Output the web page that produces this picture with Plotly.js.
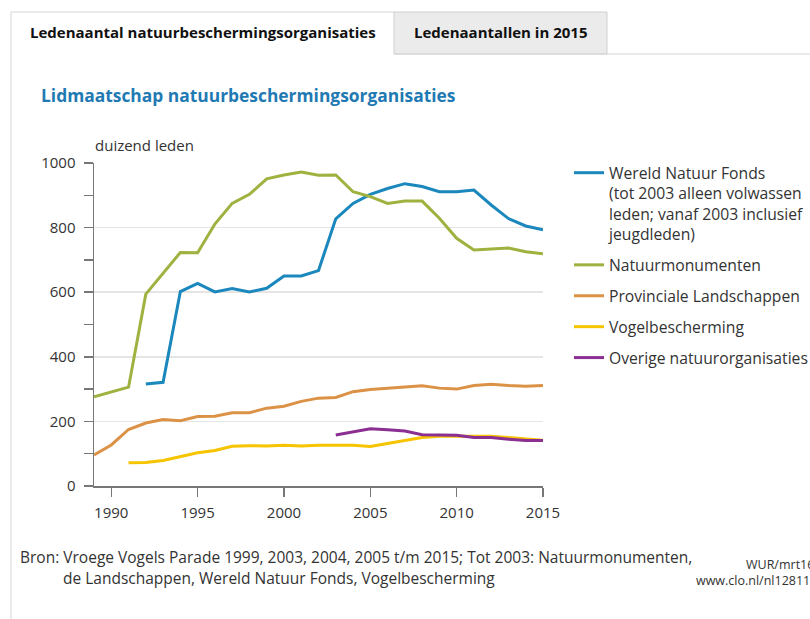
<!DOCTYPE html>
<html>
<head>
<meta charset="utf-8">
<script src="https://cdn.plot.ly/plotly-3.0.1.min.js"></script>
<style>
  html, body { margin: 0; padding: 0; background: #ffffff; }
  #chart { width: 810px; height: 619px; }
</style>
</head>
<body>
<div id="chart"></div>
<script>
// ---- data (thousands of members) ----
const yearsAll = [1989,1990,1991,1992,1993,1994,1995,1996,1997,1998,1999,2000,2001,2002,2003,2004,2005,2006,2007,2008,2009,2010,2011,2012,2013,2014,2015];

const wnfYears = [1992,1993,1994,1995,1996,1997,1998,1999,2000,2001,2002,2003,2004,2005,2006,2007,2008,2009,2010,2011,2012,2013,2014,2015];
const wnfValues = [316,321,602,627,601,611,601,612,650,650,667,827,875,903,921,936,927,911,911,916,870,828,805,793];

const natuurmonumentenValues = [276,292,306,594,658,723,722,811,875,903,951,963,972,962,963,911,896,875,882,882,829,767,731,734,737,725,719];

const provincialeValues = [96,127,175,195,206,202,215,216,227,227,241,247,262,272,274,292,299,303,306,310,303,300,311,315,311,309,311];

const vogelYears = [1991,1992,1993,1994,1995,1996,1997,1998,1999,2000,2001,2002,2003,2004,2005,2006,2007,2008,2009,2010,2011,2012,2013,2014,2015];
const vogelValues = [72,73,79,90,103,110,123,125,124,126,124,126,126,126,122,132,140,150,154,154,152,154,150,145,142];

const overigeYears = [2003,2004,2005,2006,2007,2008,2009,2010,2011,2012,2013,2014,2015];
const overigeValues = [158,168,177,174,170,159,159,157,150,150,145,141,141];

const seriesNames = [
  "Wereld Natuur Fonds<br>(tot 2003 alleen volwassen<br>leden; vanaf 2003 inclusief<br>jeugdleden)",
  "Natuurmonumenten",
  "Provinciale Landschappen",
  "Vogelbescherming",
  "Overige natuurorganisaties"
];
const seriesColors = ["#1a87bd", "#9fb13f", "#dc9246", "#f6c400", "#8c2f92"];

const xTickVals = [1990, 1995, 2000, 2005, 2010, 2015];
const yTickVals = [0, 200, 400, 600, 800, 1000];

// ---- page geometry helpers (pixel -> paper) ----
const W = 810, H = 619;
const M = { l: 94, r: 267, t: 163, b: 133 };
const PW = W - M.l - M.r, PH = H - M.t - M.b;
const fx = px => (px - M.l) / PW;
const fy = py => (H - M.b - py) / PH;

const FONT = "Open Sans, Noto Sans, sans-serif";
const TXT = "#333333";

function line(x, y, name, color, group) {
  return { x: x, y: y, name: name, type: "scatter", mode: "lines", legendgroup: group,
           line: { color: color, width: 3 }, hoverinfo: "x+y+name" };
}

const traces = [
  line(wnfYears, wnfValues, seriesNames[0], seriesColors[0], "g0"),
  line(yearsAll, natuurmonumentenValues, seriesNames[1], seriesColors[1], "g1"),
  line(yearsAll, provincialeValues, seriesNames[2], seriesColors[2], "g2"),
  line(vogelYears, vogelValues, seriesNames[3], seriesColors[3], "g3"),
  line(overigeYears, overigeValues, seriesNames[4], seriesColors[4], "g4")
];

const border = "#d6d6d6";
const shapes = [
  { type: "line", xref: "paper", yref: "paper", x0: fx(11), x1: fx(11), y0: fy(12), y1: fy(619), line: { color: border, width: 1 } },
  { type: "line", xref: "paper", yref: "paper", x0: fx(11), x1: fx(394), y0: fy(12), y1: fy(12), line: { color: border, width: 1 } },
  { type: "rect", xref: "paper", yref: "paper", x0: fx(394), x1: fx(607), y0: fy(12), y1: fy(54), fillcolor: "#ebebeb", line: { color: "#cfcfcf", width: 1 } },
  { type: "line", xref: "paper", yref: "paper", x0: fx(394), x1: fx(810), y0: fy(54), y1: fy(54), line: { color: border, width: 1 } }
];

const annotations = [
  { text: "<b>Ledenaantal natuurbeschermingsorganisaties</b>", xref: "paper", yref: "paper", x: fx(203), y: fy(32), xanchor: "center", yanchor: "middle", showarrow: false, font: { family: FONT, size: 15, color: "#111111" } },
  { text: "<b>Ledenaantallen in 2015</b>", xref: "paper", yref: "paper", x: fx(501), y: fy(32), xanchor: "center", yanchor: "middle", showarrow: false, font: { family: FONT, size: 15, color: "#111111" } },
  { text: "<b>Lidmaatschap natuurbeschermingsorganisaties</b>", xref: "paper", yref: "paper", x: fx(39), y: fy(95), xanchor: "left", yanchor: "middle", showarrow: false, font: { family: FONT, size: 17.4, color: "#1f7ab3" } },
  { text: "duizend leden", xref: "paper", yref: "paper", x: fx(93), y: fy(145), xanchor: "left", yanchor: "middle", showarrow: false, font: { family: FONT, size: 15, color: TXT } },
  { text: "Bron: Vroege Vogels Parade 1999, 2003, 2004, 2005 t/m 2015; Tot 2003: Natuurmonumenten,", xref: "paper", yref: "paper", x: fx(18), y: fy(557), xanchor: "left", yanchor: "middle", showarrow: false, font: { family: FONT, size: 15.5, color: TXT } },
  { text: "de Landschappen, Wereld Natuur Fonds, Vogelbescherming", xref: "paper", yref: "paper", x: fx(61), y: fy(578), xanchor: "left", yanchor: "middle", showarrow: false, font: { family: FONT, size: 15.5, color: TXT } },
  { text: "WUR/mrt16", xref: "paper", yref: "paper", x: fx(744), y: fy(564), xanchor: "left", yanchor: "middle", showarrow: false, font: { family: FONT, size: 12.5, color: TXT } },
  { text: "www.clo.nl/nl128110", xref: "paper", yref: "paper", x: fx(694), y: fy(580), xanchor: "left", yanchor: "middle", showarrow: false, font: { family: FONT, size: 12.5, color: TXT } }
];

const layout = {
  width: W, height: H,
  margin: { l: M.l, r: M.r, t: M.t, b: M.b, pad: 0, autoexpand: false },
  paper_bgcolor: "#ffffff", plot_bgcolor: "#ffffff",
  font: { family: FONT, size: 15, color: TXT },
  showlegend: true,
  legend: {
    x: fx(569), y: fy(156), xanchor: "left", yanchor: "top",
    font: { family: FONT, size: 15.7, color: TXT },
    valign: "top", tracegroupgap: 7.5, bgcolor: "rgba(0,0,0,0)"
  },
  xaxis: {
    range: [1989, 2015], tickmode: "array", tickvals: xTickVals, ticktext: xTickVals.map(String),
    showgrid: false, zeroline: false,
    showline: true, linecolor: "#777777", linewidth: 1.5,
    ticks: "outside", ticklen: 9, tickcolor: "#777777", tickwidth: 1.5,
    tickfont: { family: FONT, size: 15, color: TXT }, ticklabelstandoff: 3, fixedrange: true
  },
  yaxis: {
    range: [0, 1000], tickmode: "array", tickvals: yTickVals, ticktext: yTickVals.map(String),
    showgrid: true, gridcolor: "#e5e5e5", gridwidth: 1.5, zeroline: false,
    showline: true, linecolor: "#777777", linewidth: 1.5,
    ticks: "outside", ticklen: 9, tickcolor: "#777777", tickwidth: 1.5,
    minor: { dtick: 100, ticks: "outside", ticklen: 9, tickcolor: "#777777", tickwidth: 1.5, showgrid: false },
    tickfont: { family: FONT, size: 15, color: TXT }, ticklabelstandoff: 5, fixedrange: true
  },
  shapes: shapes,
  annotations: annotations
};

Plotly.newPlot("chart", traces, layout, { displayModeBar: false, staticPlot: true });
</script>
</body>
</html>
